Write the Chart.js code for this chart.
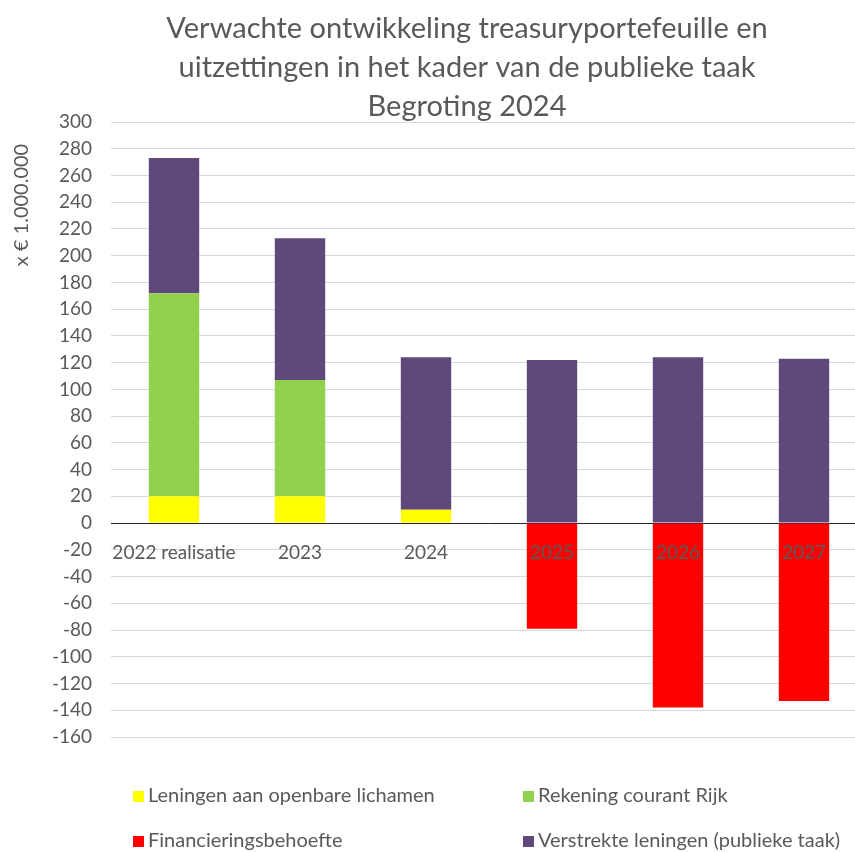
<!DOCTYPE html>
<html>
<head>
<meta charset="utf-8">
<script src="https://cdn.jsdelivr.net/npm/chart.js@4.4.1/dist/chart.umd.min.js"></script>
<style>
  html, body { margin: 0; padding: 0; background: #fff; overflow: hidden; }
  /* the plot area runs past the right edge in the original, so the canvas is wider than the window */
  #wrap { width: 855px; height: 852px; overflow: hidden; }
  #c { display: block; }
</style>
</head>
<body>
<div id="wrap"><canvas id="c" width="867" height="852"></canvas></div>
<script>
// data (x € 1.000.000)
const categories = ["2022 realisatie", "2023", "2024", "2025", "2026", "2027"];
const leningenOpenbare = [20, 20, 10, null, null, null];
const rekeningCourant = [152, 87, null, null, null, null];
const financieringsbehoefte = [null, null, null, -79, -138, -133];
const verstrekteLeningen = [101, 106, 114, 122, 124, 123];
const yMin = -160, yMax = 300, yStep = 20;

const titleLines = [
  "Verwachte ontwikkeling treasuryportefeuille en",
  "uitzettingen in het kader van de publieke taak",
  "Begroting 2024"
];
const yTitle = "x € 1.000.000";

const grey = "#595959";
const fontFamily = "Lato, 'Open Sans', sans-serif";

// title is drawn by hand: it sits a bit right of the canvas centre
const titlePlugin = {
  id: "handTitle",
  afterDraw(chart) {
    const ctx = chart.ctx;
    ctx.save();
    ctx.fillStyle = grey;
    ctx.font = "29px " + fontFamily;
    ctx.textAlign = "center";
    ctx.textBaseline = "middle";
    titleLines.forEach((line, i) => ctx.fillText(line, 467, 29 + i * 39));
    ctx.restore();
  }
};

// y axis title sits near the top of the axis, not centered
const yTitlePlugin = {
  id: "yTitle",
  afterDraw(chart) {
    const ctx = chart.ctx;
    ctx.save();
    ctx.translate(22, chart.chartArea.top + 83);
    ctx.rotate(-Math.PI / 2);
    ctx.fillStyle = grey;
    ctx.font = "20px " + fontFamily;
    ctx.textAlign = "center";
    ctx.textBaseline = "middle";
    ctx.fillText(yTitle, 0, 0);
    ctx.restore();
  }
};

// two-column legend under the plot
const legendPlugin = {
  id: "gridLegend",
  afterDraw(chart) {
    const ctx = chart.ctx;
    const cols = [133, 523];
    const rows = [796, 841];
    ctx.save();
    ctx.font = "20px " + fontFamily;
    ctx.textBaseline = "middle";
    chart.data.datasets.forEach((ds, i) => {
      const x = cols[i % 2];
      const y = rows[Math.floor(i / 2)];
      ctx.fillStyle = ds.backgroundColor;
      ctx.fillRect(x, y - 5, 11, 11);
      ctx.fillStyle = grey;
      ctx.fillText(ds.label, x + 15, y);
    });
    ctx.restore();
  }
};

new Chart(document.getElementById("c"), {
  type: "bar",
  data: {
    labels: categories,
    datasets: [
      { label: "Leningen aan openbare lichamen", data: leningenOpenbare, backgroundColor: "#FFFF00" },
      { label: "Rekening courant Rijk", data: rekeningCourant, backgroundColor: "#92D050" },
      { label: "Financieringsbehoefte", data: financieringsbehoefte, backgroundColor: "#FF0000" },
      { label: "Verstrekte leningen (publieke taak)", data: verstrekteLeningen, backgroundColor: "#5F497A" }
    ]
  },
  options: {
    responsive: false,
    animation: false,
    datasets: { bar: { categoryPercentage: 1, barPercentage: 0.4 } },
    layout: { padding: { left: 0, right: 0, top: 122, bottom: 115 } },
    plugins: {
      legend: { display: false },
      tooltip: { enabled: false },
      title: { display: false }
    },
    scales: {
      x: {
        stacked: true,
        position: { y: 0 },
        grid: { display: false },
        border: { display: true, color: "#262626", width: 1 },
        ticks: {
          z: 1,
          color: grey,
          font: { family: fontFamily, size: 19 },
          padding: 10,
          autoSkip: false,
          maxRotation: 0
        }
      },
      y: {
        stacked: true,
        min: yMin,
        max: yMax,
        afterFit(scale) { scale.width = 111; },
        grid: { color: "#D9D9D9", drawTicks: false },
        border: { display: false },
        ticks: {
          stepSize: yStep,
          color: grey,
          padding: 19,
          font: { family: fontFamily, size: 19 }
        }
      }
    }
  },
  plugins: [titlePlugin, yTitlePlugin, legendPlugin]
});
</script>
</body>
</html>
